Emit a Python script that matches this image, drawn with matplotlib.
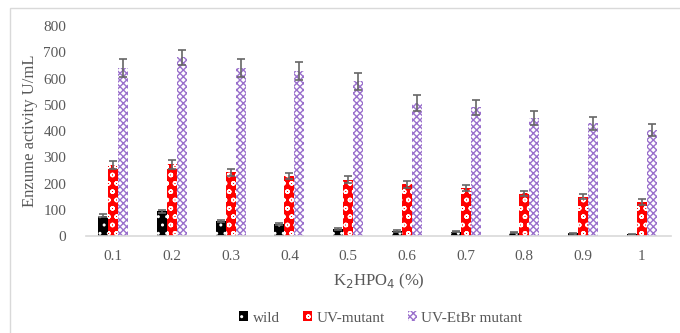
import matplotlib.pyplot as plt
import matplotlib.patches as mpatches
import numpy as np

plt.rcParams['font.family'] = ['Liberation Serif', 'DejaVu Serif']
plt.rcParams['hatch.linewidth'] = 1.0

conc = ['0.1', '0.2', '0.3', '0.4', '0.5', '0.6', '0.7', '0.8', '0.9', '1']
wild = [78, 95, 58, 47, 28, 20, 17, 12, 10, 7]
wild_err = [5, 6, 4, 4, 3, 3, 2, 2, 2, 2]
uv = [270, 273, 243, 228, 215, 198, 183, 163, 150, 130]
uv_err = [15, 17, 13, 12, 14, 13, 11, 10, 9, 10]
etbr = [640, 680, 640, 628, 590, 508, 490, 450, 430, 403]
etbr_err = [35, 30, 35, 35, 32, 30, 30, 28, 25, 22]

gray = '#595959'
x = np.arange(len(conc))
w = 0.17

fig = plt.figure(figsize=(6.8, 3.33), dpi=100)
ax = fig.add_axes([0.126, 0.291, 0.861, 0.631])

err_kw = dict(ecolor='#666666', elinewidth=1.2, capsize=3, capthick=1.2)
ax.bar(x - w, wild, w, yerr=wild_err, color='black', edgecolor='white',
       hatch='..', linewidth=0, error_kw=err_kw, label='wild')
ax.bar(x, uv, w, yerr=uv_err, color='#ff0000', edgecolor='white',
       hatch='oo', linewidth=0, error_kw=err_kw, label='UV-mutant')
ax.bar(x + w, etbr, w, yerr=etbr_err, color='white', edgecolor='#9a70cc',
       hatch='xxxxx', linewidth=0, error_kw=err_kw, label='UV-EtBr mutant')

ax.set_xlim(-0.47, 9.5)
ax.set_ylim(0, 800)
ax.set_yticks(range(0, 801, 100))
ax.set_xticks(x)
ax.set_xticklabels(conc)
for s in ['top', 'right', 'left']:
    ax.spines[s].set_visible(False)
ax.spines['bottom'].set_color('#d9d9d9')
ax.spines['bottom'].set_linewidth(1.2)
ax.tick_params(axis='both', length=0, colors=gray, labelsize=11)
ax.tick_params(axis='y', pad=14)
ax.tick_params(axis='x', pad=10)

ax.set_ylabel('Enzume activity U/mL', color=gray, fontsize=12, labelpad=4)
ax.set_xlabel('K$_2$HPO$_4$ (%)', color=gray, fontsize=12, labelpad=6)

leg = fig.legend(loc='center', bbox_to_anchor=(0.56, 0.045), ncol=3, frameon=False,
                 fontsize=11, handlelength=0.6, handleheight=0.6,
                 handletextpad=0.3, columnspacing=1.5)
for t in leg.get_texts():
    t.set_color(gray)

fig.patches.append(mpatches.Rectangle((10 / 680, -0.1), 1.2, 1 - 8 / 333 + 0.1,
                                      transform=fig.transFigure, fill=False,
                                      edgecolor='#d9d9d9', linewidth=1))

fig.savefig('out.png', dpi=100)
